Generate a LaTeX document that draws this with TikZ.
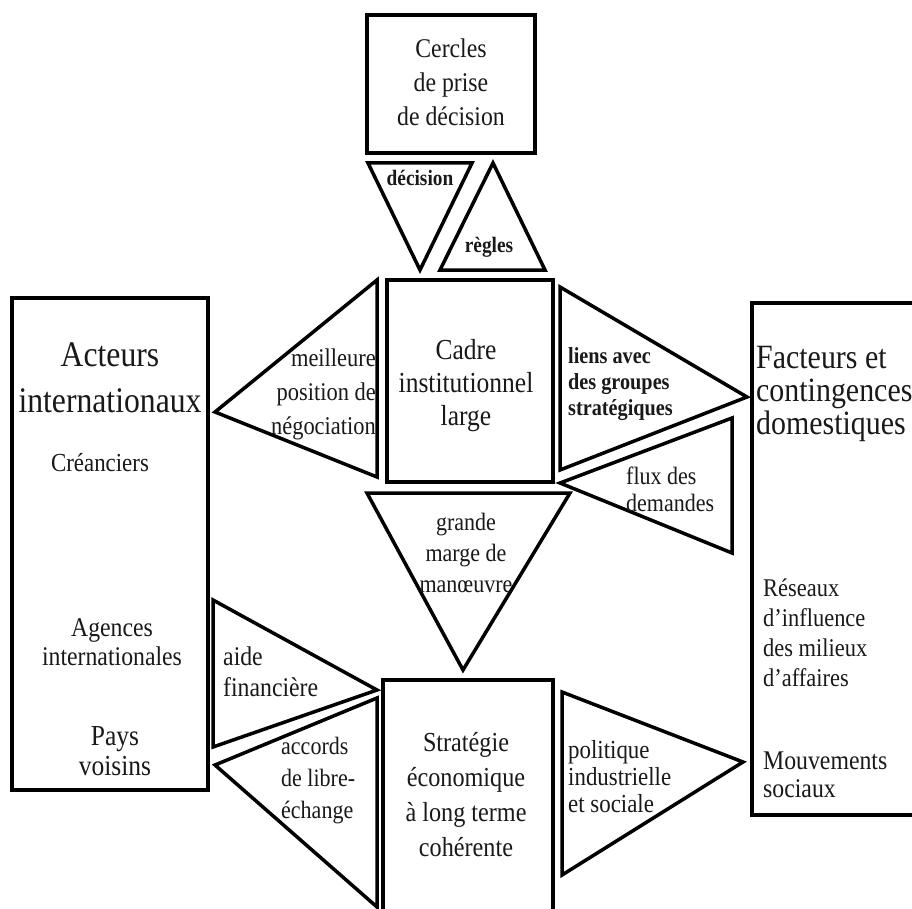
\documentclass[tikz,border=0pt]{standalone}
\usepackage{fontspec}
\setmainfont{Liberation Serif}[FakeStretch=0.88]
\tikzset{
  shp/.style={draw=black, line width=3.5pt, line join=miter},
  lbl/.style={inner sep=0pt, text=black!90},
}
\newcommand{\fs}[2]{\fontsize{#1}{#2}\selectfont}
\begin{document}
\begin{tikzpicture}[x=1pt,y=-1pt]
\useasboundingbox[fill=white] (0,0) rectangle (912,909);
% boxes
\draw[shp] (367,15) rectangle (535,153);
\draw[shp] (387,280) rectangle (553,482);
\draw[shp] (12,298) rectangle (208,790);
\draw[shp] (752,303) rectangle (918,815);
\draw[shp] (383,680) rectangle (553,918);
% triangles
\draw[shp] (368,163) -- (472,163) -- (420,270) -- cycle;
\draw[shp] (493,163) -- (545,270) -- (440,270) -- cycle;
\draw[shp] (377,280) -- (377,477) -- (215,412) -- cycle;
\draw[shp] (560,287) -- (747,397) -- (560,470) -- cycle;
\draw[shp] (560,483) -- (732,418) -- (732,553) -- cycle;
\draw[shp] (367,493) -- (570,493) -- (463,670) -- cycle;
\draw[shp] (213,600) -- (377,690) -- (213,747) -- cycle;
\draw[shp] (215,765) -- (377,698) -- (377,907) -- cycle;
\draw[shp] (562,692) -- (743,762) -- (562,875) -- cycle;
% labels
\node[lbl, align=center, font=\fs{27}{34}] (cercles) at (451,82) {Cercles\\de prise\\de décision};
\node[lbl, font=\fs{22}{24}\bfseries] (decision) at (420,178) {décision};
\node[lbl, font=\fs{22}{24}\bfseries] (regles) at (489,247) {règles};
\node[lbl, align=center, font=\fs{29}{33}] (cadre) at (466,386) {Cadre\\institutionnel\\large};
\node[lbl, align=right, anchor=east, font=\fs{25.5}{34}] (meilleure) at (376,394) {meilleure\\position de\\négociation};
\node[lbl, align=left, anchor=west, font=\fs{23}{26}\bfseries] (liens) at (568,384) {liens avec\\des groupes\\stratégiques};
\node[lbl, align=left, anchor=west, font=\fs{25}{27}] (flux) at (626,489) {flux des\\demandes};
\node[lbl, align=left, anchor=west, font=\fs{34}{33}] (facteurs) at (756,394) {Facteurs et\\contingences\\domestiques};
\node[lbl, align=center, font=\fs{36}{46}] (acteurs) at (110,378) {Acteurs\\internationaux};
\node[lbl, font=\fs{26}{28}] (creanciers) at (100,463) {Créanciers};
\node[lbl, align=center, font=\fs{27}{29}] (agences) at (112,642) {Agences\\internationales};
\node[lbl, align=center, font=\fs{29}{30}] (pays) at (115,751) {Pays\\voisins};
\node[lbl, align=center, font=\fs{25}{31}] (grande) at (466,553) {grande\\marge de\\manœuvre};
\node[lbl, align=left, anchor=west, font=\fs{27}{31}] (aide) at (223,672) {aide\\financière};
\node[lbl, align=left, anchor=west, font=\fs{25}{32}] (accords) at (281,781) {accords\\de libre-\\échange};
\node[lbl, align=center, font=\fs{27.5}{35}] (strategie) at (466,795) {Stratégie\\économique\\à long terme\\cohérente};
\node[lbl, align=left, anchor=west, font=\fs{26}{27}] (politique) at (568,777) {politique\\industrielle\\et sociale};
\node[lbl, align=left, anchor=west, font=\fs{25.5}{30}] (reseaux) at (763,633) {Réseaux\\d'influence\\des milieux\\d'affaires};
\node[lbl, align=left, anchor=west, font=\fs{27}{28}] (mouvements) at (763,775) {Mouvements\\sociaux};
\end{tikzpicture}
\end{document}
